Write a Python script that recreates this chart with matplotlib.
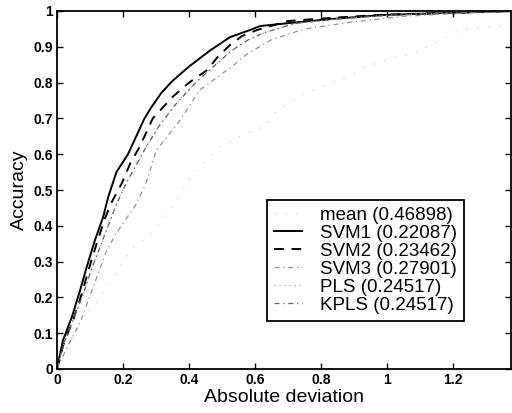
import matplotlib
matplotlib.use("Agg")
import matplotlib.pyplot as plt

plt.rcParams['font.family'] = ['Liberation Sans', 'DejaVu Sans']

# curves: absolute deviation (x) vs accuracy (y)
mean_x = [0, 0.04, 0.075, 0.12, 0.18, 0.23, 0.29, 0.37, 0.40, 0.49, 0.555, 0.633, 0.664, 0.75,
          0.89, 0.92, 1.02, 1.08, 1.22, 1.30, 1.375]
mean_y = [0, 0.07, 0.14, 0.185, 0.27, 0.34, 0.38, 0.48, 0.53, 0.62, 0.65, 0.68, 0.72, 0.77,
          0.82, 0.84, 0.87, 0.88, 0.947, 0.955, 0.96]

svm1_x = [0, 0.018, 0.045, 0.07, 0.09, 0.115, 0.14, 0.155, 0.18, 0.215, 0.245, 0.265, 0.285,
          0.315, 0.35, 0.40, 0.464, 0.524, 0.585, 0.615, 0.70, 0.836, 0.99, 1.2, 1.375]
svm1_y = [0, 0.08, 0.145, 0.22, 0.285, 0.36, 0.425, 0.48, 0.55, 0.60, 0.66, 0.70, 0.73,
          0.77, 0.805, 0.845, 0.89, 0.927, 0.947, 0.958, 0.966, 0.978, 0.989, 0.995, 1.0]

svm2_x = [0, 0.02, 0.05, 0.075, 0.095, 0.12, 0.145, 0.165, 0.197, 0.222, 0.25, 0.29, 0.35,
          0.40, 0.455, 0.485, 0.524, 0.56, 0.606, 0.70, 0.85, 1.0, 1.2, 1.375]
svm2_y = [0, 0.07, 0.14, 0.21, 0.275, 0.35, 0.42, 0.465, 0.52, 0.575, 0.62, 0.70, 0.76,
          0.80, 0.835, 0.87, 0.905, 0.93, 0.947, 0.972, 0.982, 0.99, 0.995, 1.0]

svm3_x = [0, 0.03, 0.07, 0.11, 0.15, 0.18, 0.206, 0.24, 0.27, 0.285, 0.30, 0.373, 0.433,
          0.53, 0.576, 0.65, 0.75, 0.9, 1.05, 1.2, 1.375]
svm3_y = [0, 0.06, 0.13, 0.23, 0.33, 0.38, 0.415, 0.46, 0.52, 0.565, 0.61, 0.695, 0.78,
          0.845, 0.88, 0.92, 0.95, 0.97, 0.985, 0.993, 1.0]

pls_x = [0, 0.02, 0.05, 0.08, 0.105, 0.13, 0.155, 0.18, 0.21, 0.24, 0.27, 0.31, 0.36, 0.42,
         0.48, 0.53, 0.58, 0.63, 0.72, 0.85, 1.0, 1.2, 1.375]
pls_y = [0, 0.07, 0.14, 0.21, 0.28, 0.34, 0.40, 0.46, 0.52, 0.57, 0.62, 0.68, 0.74, 0.80,
         0.85, 0.89, 0.92, 0.94, 0.965, 0.978, 0.988, 0.995, 1.0]

kpls_x = pls_x
kpls_y = pls_y

labels = ['mean (0.46898)', 'SVM1 (0.22087)', 'SVM2 (0.23462)', 'SVM3 (0.27901)',
          'PLS (0.24517)', 'KPLS (0.24517)']

fig = plt.figure(figsize=(5.12, 4.13), dpi=100)
ax = fig.add_axes([57 / 512, 1 - 369 / 413, (511 - 57) / 512, (369 - 11) / 413])

ax.plot(mean_x, mean_y, color='#c8c8c8', lw=0.8, dashes=(1, 9), label=labels[0])
ax.plot(svm1_x, svm1_y, color='black', lw=1.4, ls='-', label=labels[1])
ax.plot(svm2_x, svm2_y, color='black', lw=1.4, dashes=(5, 4), label=labels[2])
ax.plot(svm3_x, svm3_y, color='#909090', lw=0.9, dashes=(4, 3, 1, 3), label=labels[3])
ax.plot(pls_x, pls_y, color='#a0a0a0', lw=0.9, dashes=(1, 3), label=labels[4])
ax.plot(kpls_x, kpls_y, color='#606060', lw=0.9, dashes=(4, 3, 1, 3), label=labels[5])

ax.set_xlim(0, 1.375)
ax.set_ylim(0, 1)
ax.set_xticks([0, 0.2, 0.4, 0.6, 0.8, 1, 1.2])
ax.set_xticklabels(['0', '0.2', '0.4', '0.6', '0.8', '1', '1.2'])
ax.set_yticks([i / 10 for i in range(11)])
ax.set_yticklabels(['0', '0.1', '0.2', '0.3', '0.4', '0.5', '0.6', '0.7', '0.8', '0.9', '1'])
ax.tick_params(direction='in', top=True, right=True, length=4, width=1, labelsize=10, pad=3)
for t in ax.get_xticklabels() + ax.get_yticklabels():
    t.set_fontweight('bold')
for s in ax.spines.values():
    s.set_linewidth(1.3)

ax.set_xlabel('Absolute deviation', fontsize=14, labelpad=1)
ax.set_ylabel('Accuracy', fontsize=14, labelpad=4)

leg = ax.legend(loc='upper left', bbox_to_anchor=(267 / 512, 1 - 200 / 413),
                bbox_transform=fig.transFigure, borderaxespad=0, fontsize=13.5,
                fancybox=False, framealpha=1, edgecolor='black', handlelength=1.5,
                handletextpad=1.0, labelspacing=0.05, borderpad=0.35)
leg.get_frame().set_linewidth(1.3)

fig.savefig('out.png', dpi=100)
